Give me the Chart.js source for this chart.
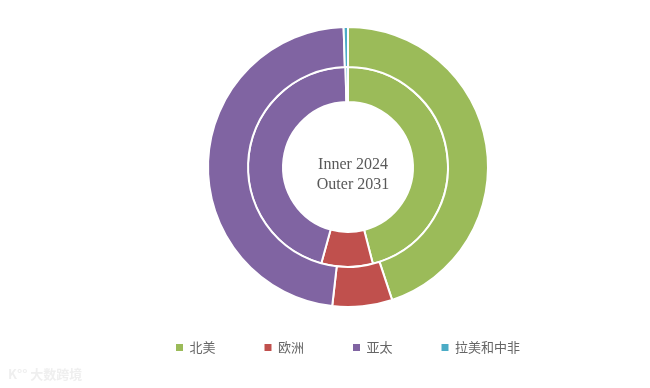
<!DOCTYPE html>
<html lang="zh">
<head>
    <meta charset="UTF-8">
    <title>市场份额 2024 / 2031</title>
    <script src="https://cdn.jsdelivr.net/npm/chart.js"></script>
    <style>
        html, body {
            margin: 0;
            padding: 0;
            background: #fff;
        }
        #box {
            width: 650px;
            height: 388px;
        }
    </style>
</head>
<body>
    <div id="box"><canvas id="grafico"></canvas></div>

    <script>
        const regiones = ["北美", "欧洲", "亚太", "拉美和中非"];
        const colores = ["#9BBB59", "#C0504D", "#8064A2", "#4BACC6"];
        const valores2031 = [44.9, 6.9, 47.7, 0.5];  // anillo exterior
        const valores2024 = [46.0, 8.3, 45.3, 0.4];  // anillo interior
        const textoCentro = ["Inner 2024", "Outer 2031"];

        const centroTexto = {
            id: "centroTexto",
            afterDraw(chart) {
                const a = chart.chartArea;
                const cx = (a.left + a.right) / 2;
                const cy = (a.top + a.bottom) / 2;
                const ctx = chart.ctx;
                ctx.save();
                ctx.font = "16px 'Liberation Serif'";
                ctx.fillStyle = "#595959";
                ctx.textAlign = "center";
                ctx.textBaseline = "middle";
                ctx.fillText(textoCentro[0], cx + 5, cy - 2);
                ctx.fillText(textoCentro[1], cx + 5, cy + 18);
                // marca de agua
                ctx.font = "bold 13px 'Noto Sans CJK SC'";
                ctx.fillStyle = "#efefef";
                ctx.textAlign = "left";
                ctx.fillText("K°° 大数跨境", 8, 374);
                ctx.restore();
            }
        };

        new Chart(document.getElementById("grafico"), {
            type: "doughnut",
            data: {
                labels: regiones,
                datasets: [
                    {
                        label: "2031",
                        data: valores2031,
                        backgroundColor: colores,
                        borderColor: "#fff",
                        borderWidth: 2,
                        weight: 40,
                        clip: false
                    },
                    {
                        label: "2024",
                        data: valores2024,
                        backgroundColor: colores,
                        borderColor: "#fff",
                        borderWidth: 2,
                        weight: 35,
                        clip: false
                    }
                ]
            },
            options: {
                responsive: true,
                maintainAspectRatio: false,
                animation: false,
                radius: 140,
                cutout: "46.4%",
                layout: {
                    padding: { left: 46, top: 42, bottom: 24 }
                },
                plugins: {
                    legend: {
                        position: "bottom",
                        labels: {
                            boxWidth: 7,
                            boxHeight: 7,
                            padding: 49,
                            color: "#666666",
                            font: { family: "'Noto Sans CJK SC'", size: 13 },
                            generateLabels(chart) {
                                const items = Chart.overrides.doughnut.plugins.legend.labels.generateLabels(chart);
                                return items.map(it => Object.assign(it, { lineWidth: 0, strokeStyle: it.fillStyle }));
                            }
                        }
                    },
                    tooltip: { enabled: false }
                }
            },
            plugins: [centroTexto]
        });
    </script>
</body>
</html>
